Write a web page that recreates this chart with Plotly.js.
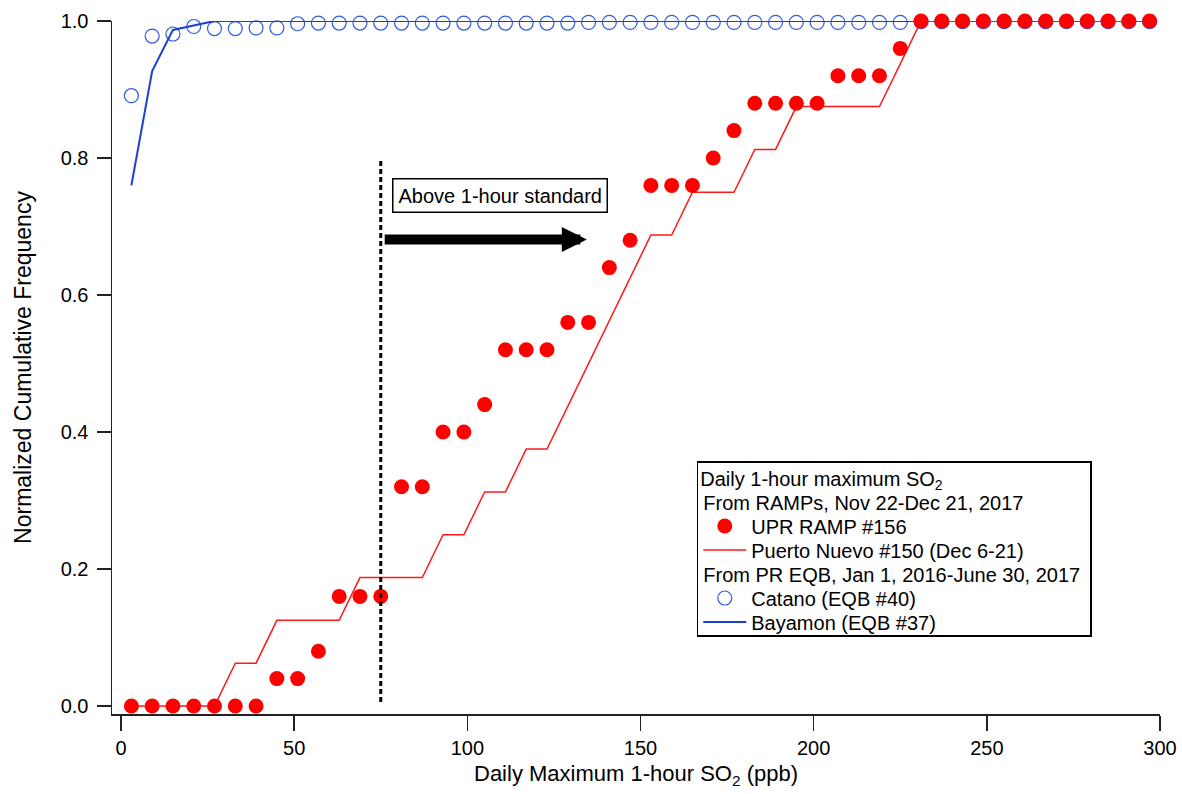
<!DOCTYPE html>
<html>
<head>
<meta charset="utf-8">
<script src="https://cdn.plot.ly/plotly-3.0.1.min.js"></script>
<style>
  html, body { margin: 0; padding: 0; background: #ffffff; }
  #chart { width: 1182px; height: 794px; }
</style>
</head>
<body>
<div id="chart"></div>
<script>
// Bin centers (ppb)
const so2Bins = [3,9,15,21,27,33,39,45,51,57,63,69,75,81,87,93,99,105,111,117,123,129,135,141,147,153,159,165,171,177,183,189,195,201,207,213,219,225,231,237,243,249,255,261,267,273,279,285,291,297];

// UPR RAMP #156 (points)
const uprRamp156 = [0,0,0,0,0,0,0,0.04,0.04,0.08,0.16,0.16,0.16,0.32,0.32,0.40,0.40,0.44,0.52,0.52,0.52,0.56,0.56,0.64,0.68,0.76,0.76,0.76,0.80,0.84,0.88,0.88,0.88,0.88,0.92,0.92,0.92,0.96,1,1,1,1,1,1,1,1,1,1,1,1];

// Puerto Nuevo #150 (line)
const puertoNuevo150 = [0,0,0,0,0,0.0625,0.0625,0.125,0.125,0.125,0.125,0.1875,0.1875,0.1875,0.1875,0.25,0.25,0.3125,0.3125,0.375,0.375,0.4375,0.5,0.5625,0.625,0.6875,0.6875,0.75,0.75,0.75,0.8125,0.8125,0.875,0.875,0.875,0.875,0.875,0.9375,1,1,1,1,1,1,1,1,1,1,1,1];

// Catano (EQB #40) (open circles)
const catano40 = [0.891,0.978,0.981,0.992,0.989,0.989,0.990,0.990,0.996,0.997,0.997,0.997,0.997,0.997,0.997,0.997,0.997,0.997,0.997,0.997,0.997,0.997,0.998,0.998,0.998,0.998,0.998,0.998,0.998,0.998,0.998,0.998,0.998,0.998,0.998,0.998,0.998,0.998,0.999,0.999,0.999,0.999,0.999,0.999,0.999,0.999,0.999,0.999,0.999,0.999];

// Bayamon (EQB #37) (line)
const bayamon37 = [0.76,0.927,0.987,0.993,1,1,1,1,1,1,1,1,1,1,1,1,1,1,1,1,1,1,1,1,1,1,1,1,1,1,1,1,1,1,1,1,1,1,1,1,1,1,1,1,1,1,1,1,1,1];

const xTicks = [0,50,100,150,200,250,300];
const yTicks = [0,0.2,0.4,0.6,0.8,1.0];
const standardPpb = 75;

const FONT = 'Arial, "Liberation Sans", Helvetica, sans-serif';

const traces = [
  {
    x: so2Bins, y: catano40, type: 'scatter', mode: 'markers',
    name: 'Catano (EQB #40)', legendgroup: 'eqb', legendrank: 3,
    legendgrouptitle: {text: 'From PR EQB, Jan 1, 2016-June 30, 2017', font: {family: FONT, size: 20, color: '#000'}},
    marker: {symbol: 'circle-open', size: 14, color: '#2f5be6', line: {width: 1.2, color: '#2f5be6'}},
    cliponaxis: false
  },
  {
    x: so2Bins, y: bayamon37, type: 'scatter', mode: 'lines',
    name: 'Bayamon (EQB #37)', legendgroup: 'eqb', legendrank: 4,
    line: {color: '#1a3fd6', width: 2},
    cliponaxis: false
  },
  {
    x: so2Bins, y: puertoNuevo150, type: 'scatter', mode: 'lines',
    name: 'Puerto Nuevo #150 (Dec 6-21)', legendgroup: 'ramps', legendrank: 2,
    line: {color: '#ff1a1a', width: 1.5},
    cliponaxis: false
  },
  {
    x: so2Bins, y: uprRamp156, type: 'scatter', mode: 'markers',
    name: 'UPR RAMP #156', legendgroup: 'ramps', legendrank: 1,
    legendgrouptitle: {text: 'From RAMPs, Nov 22-Dec 21, 2017', font: {family: FONT, size: 20, color: '#000'}},
    marker: {symbol: 'circle', size: 15, color: '#ff0000'},
    cliponaxis: false
  }
];

const layout = {
  width: 1182, height: 794,
  margin: {l: 112, r: 22, t: 21, b: 80},
  paper_bgcolor: '#ffffff', plot_bgcolor: '#ffffff',
  font: {family: FONT, size: 20, color: '#000000'},
  showlegend: true,
  legend: {
    x: 0.558, y: 0.365, xanchor: 'left', yanchor: 'top',
    bgcolor: '#ffffff', bordercolor: '#000000', borderwidth: 1.5,
    font: {family: FONT, size: 20, color: '#000000'},
    title: {text: 'Daily 1-hour maximum SO<sub>2</sub>', font: {family: FONT, size: 20}},
    tracegroupgap: 0,
    traceorder: 'grouped',
    itemwidth: 43
  },
  xaxis: {
    range: [-2.6, 300], tickvals: xTicks, ticktext: xTicks.map(String),
    ticks: 'outside', ticklen: 15, tickwidth: 1.5, tickcolor: '#222',
    showline: true, linewidth: 1.5, linecolor: '#222',
    showgrid: false, zeroline: false,
    tickfont: {family: FONT, size: 20},
    title: {text: 'Daily Maximum 1-hour SO<sub>2</sub> (ppb)', font: {family: FONT, size: 22}, standoff: 8}
  },
  yaxis: {
    range: [-0.0117, 1.0], tickvals: yTicks, tickformat: '.1f',
    ticks: 'outside', ticklen: 14, tickwidth: 1.5, tickcolor: '#222',
    showline: true, linewidth: 1.5, linecolor: '#222',
    showgrid: false, zeroline: false,
    tickfont: {family: FONT, size: 20},
    ticklabelstandoff: 4,
    title: {text: 'Normalized Cumulative Frequency', font: {family: FONT, size: 23}, standoff: 22}
  },
  shapes: [
    {type: 'line', xref: 'x', yref: 'y', x0: standardPpb, x1: standardPpb, y0: 0.006, y1: 0.8,
     line: {color: '#000000', width: 3, dash: '5px,3px'}}
  ],
  annotations: [
    {xref: 'x', yref: 'y', x: 109.35, y: 0.745, text: 'Above 1-hour standard', showarrow: false,
     font: {family: FONT, size: 20, color: '#000'}, bordercolor: '#000', borderwidth: 1.5, borderpad: 5,
     bgcolor: '#fff'},
    {xref: 'x', yref: 'y', axref: 'x', ayref: 'y', x: 134.5, y: 0.681, ax: 75.7, ay: 0.681,
     text: '', showarrow: true, arrowhead: 2, arrowsize: 0.5, arrowwidth: 10, arrowcolor: '#000'}
  ]
};

// Legend row pitch and offsets (px) as in the reference
const LEGEND_PITCH = 24;
const LEGEND_TITLE_OFFSET = 17;
const LEGEND_BOTTOM_PAD = 13;

function parseTranslate(tr) {
  const m = /translate\(\s*([-\d.e]+)[\s,]+([-\d.e]+)\s*\)/.exec(tr || '');
  return m ? [parseFloat(m[1]), parseFloat(m[2])] : [0, 0];
}
function centerY(el) { const r = el.getBoundingClientRect(); return r.top + r.height / 2; }

Plotly.newPlot('chart', traces, layout, {displayModeBar: false, staticPlot: true}).then(gd => {
  try {
    const legend = gd.querySelector('g.legend');
    if (!legend) return;
    const bg = legend.querySelector('rect.bg');
    const bgTop = bg.getBoundingClientRect().top;
    const title = legend.querySelector('.legendtitletext');
    if (title) {
      const r = title.getBoundingClientRect();
      // use the main line (ignore subscript drop) by approximating with top + 0.5*fontsize*1.15
      const cur = r.top + 11;
      const want = bgTop + LEGEND_TITLE_OFFSET;
      const d = want - cur;
      const prev = title.getAttribute('transform') || '';
      title.setAttribute('transform', (prev + ' translate(0,' + d + ')').trim());
    }
    const items = Array.from(legend.querySelectorAll('g.traces'));
    const txt = g => g.querySelector('text.legendtext') || g;
    items.sort((a, b) => centerY(txt(a)) - centerY(txt(b)));
    items.forEach((g, i) => {
      const cur = centerY(txt(g));
      const want = bgTop + LEGEND_TITLE_OFFSET + LEGEND_PITCH * (i + 1);
      const [tx, ty] = parseTranslate(g.getAttribute('transform'));
      g.setAttribute('transform', 'translate(' + tx + ',' + (ty + want - cur) + ')');
    });
    const lastC = bgTop + LEGEND_TITLE_OFFSET + LEGEND_PITCH * items.length;
    const bgRect = bg.getBoundingClientRect();
    const newH = lastC + LEGEND_BOTTOM_PAD - bgRect.top;
    const curH = parseFloat(bg.getAttribute('height'));
    if (newH > 0 && isFinite(curH)) bg.setAttribute('height', newH - (bgRect.height - curH));
  } catch (e) { /* keep default legend */ }
});
</script>
</body>
</html>
